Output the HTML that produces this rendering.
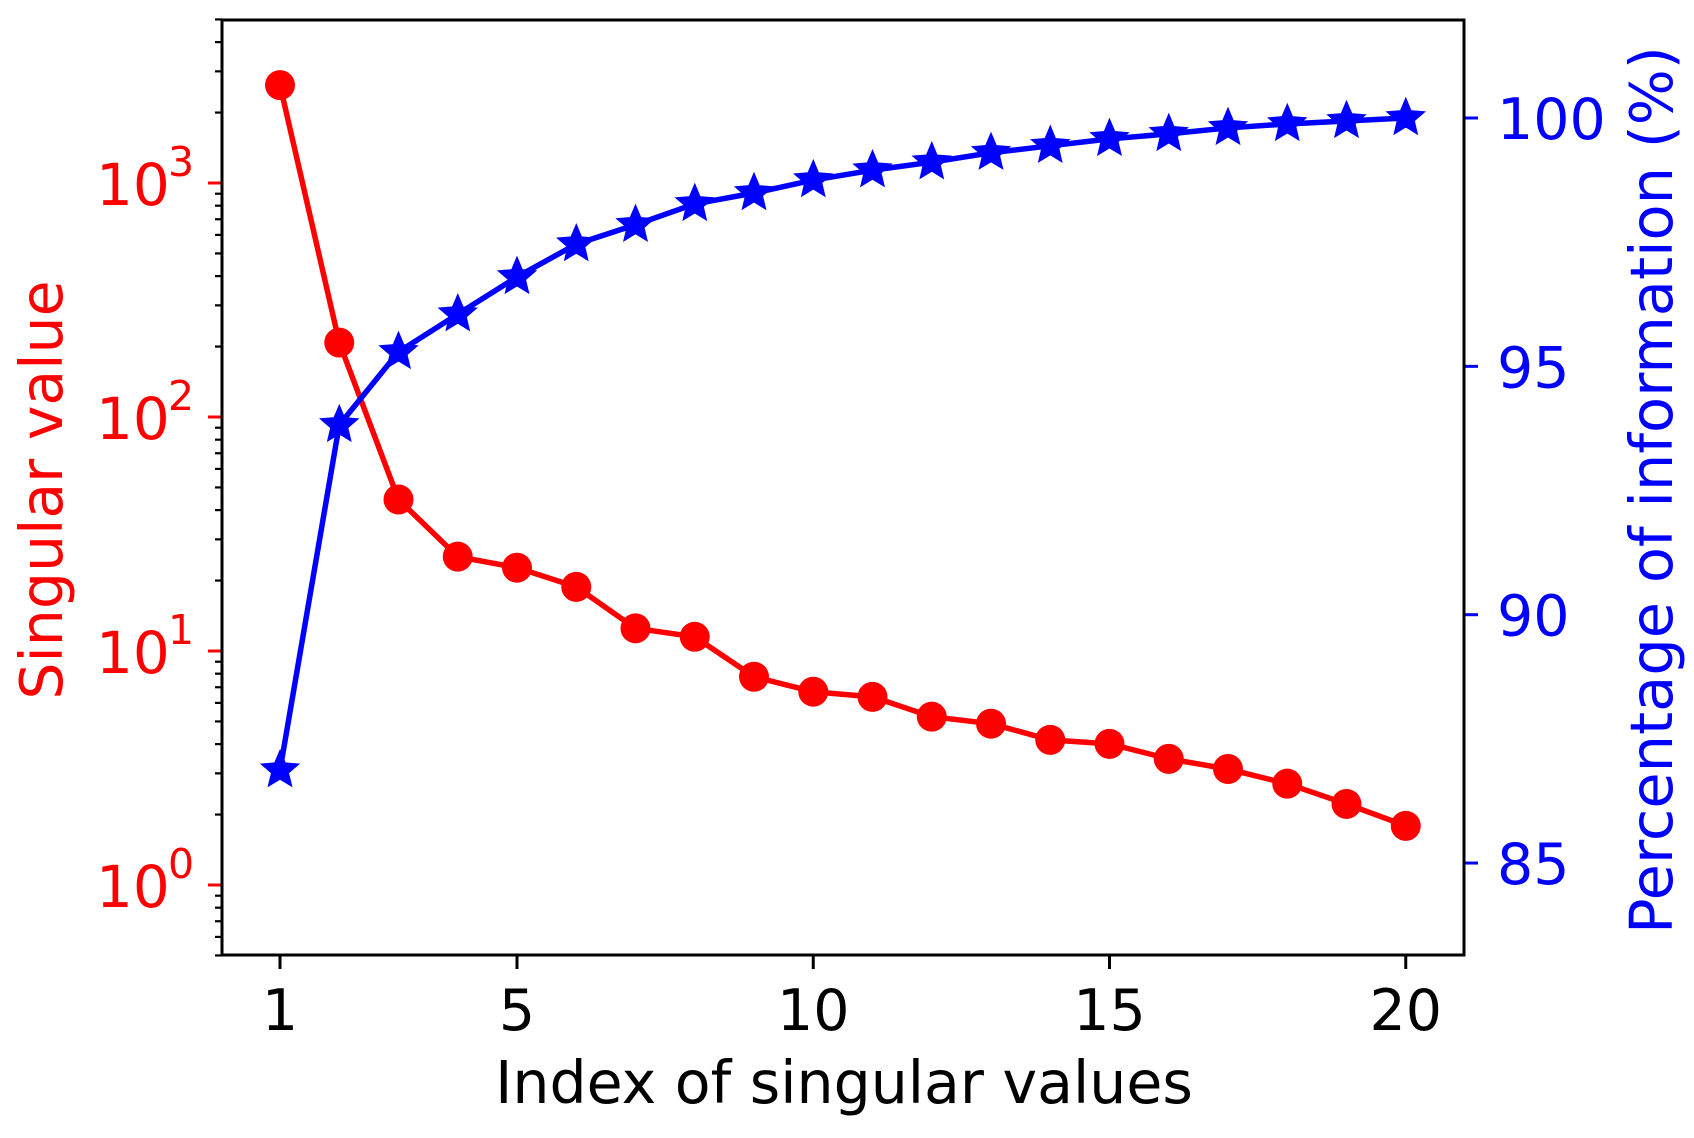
<!DOCTYPE html>
<html><head><meta charset="utf-8"><style>
html,body{margin:0;padding:0;background:#fff;}
svg text{font-family:"DejaVu Sans","Liberation Sans",sans-serif;}
</style></head><body>
<svg id="chart" width="1694" height="1133" viewBox="0 0 1694 1133" xmlns="http://www.w3.org/2000/svg">
<g id="plot"></g>
</svg>
<script>
const indices = [1,2,3,4,5,6,7,8,9,10,11,12,13,14,15,16,17,18,19,20];
const singularValues = [2620,208,44.4,25.3,22.7,18.8,12.5,11.5,7.76,6.7,6.37,5.24,4.89,4.17,4.01,3.46,3.13,2.71,2.22,1.79];
const percentInfo = [86.87,93.82,95.29,96.05,96.8,97.46,97.85,98.27,98.49,98.75,98.95,99.11,99.3,99.44,99.58,99.68,99.8,99.88,99.94,100.0];
const xTicks = [1,5,10,15,20];
const leftExps = [0,1,2,3];
const rightTicks = [85,90,95,100];

const NS = "http://www.w3.org/2000/svg";
const g = document.getElementById('plot');
const L = 222, R = 1464, T = 20, B = 955;
function xs(v){ return 280 + (v-1)*59.25; }
function yl(v){ return 885 - Math.log10(v)*234; }
function yr(v){ return 118 + (100-v)*49.67; }
function mk(tag, attrs, parent){
  const e = document.createElementNS(NS, tag);
  for (const k in attrs) e.setAttribute(k, attrs[k]);
  (parent||g).appendChild(e);
  return e;
}

xTicks.forEach(v=>{
  const t = mk('line',{x1:xs(v),x2:xs(v),y1:B,y2:B+14,stroke:'#000','stroke-width':3});
  
  
  const lb = mk('text',{x:xs(v),y:1030,'text-anchor':'middle','font-size':57,fill:'#000'});
  lb.textContent = v;
  
  
});
for (let e=-1;e<=3;e++){
  for (let m=1;m<10;m++){
    const v = m*Math.pow(10,e);
    const y = yl(v);
    if (y < T-1 || y > B+1) continue;
    const len = m===1?14:7;
    const t = mk('line',{x1:L-len,x2:L,y1:y,y2:y,stroke:m===1?'#f00':'#000','stroke-width':m===1?3:2.2});
    
    
  }
}
leftExps.forEach(e=>{
  const y = yl(Math.pow(10,e));
  const lb = mk('text',{x:96,y:y+22,'font-size':58,fill:'#f00'});
  lb.textContent = '10';
  
  
  const sp = mk('text',{x:168,y:y-7,'font-size':41,fill:'#f00'});
  sp.textContent = e;
  
  
});
rightTicks.forEach(v=>{
  const y = yr(v);
  const t = mk('line',{x1:R,x2:R+14,y1:y,y2:y,stroke:'#00f','stroke-width':3});
  
  
  const lb = mk('text',{x:1497,y:y+21,'font-size':57,fill:'#00f'});
  lb.textContent = v;
  
  
});

const rl = mk('polyline',{points:indices.map((x,i)=>xs(x)+','+yl(singularValues[i])).join(' '),fill:'none',stroke:'#f00','stroke-width':5.5,'stroke-linejoin':'round'});


indices.forEach((x,i)=>{
  const c = mk('circle',{cx:xs(x),cy:yl(singularValues[i]),r:15,fill:'#f00'});
  
  
});
const bl = mk('polyline',{points:indices.map((x,i)=>xs(x)+','+yr(percentInfo[i])).join(' '),fill:'none',stroke:'#00f','stroke-width':5.5,'stroke-linejoin':'round'});


function star(cx,cy,r){
  const pts=[];
  for(let k=0;k<10;k++){
    const a = -Math.PI/2 + k*Math.PI/5;
    const rr = k%2===0 ? r : r*0.45;
    pts.push((cx+rr*Math.cos(a)).toFixed(1)+','+(cy+rr*Math.sin(a)).toFixed(1));
  }
  return pts.join(' ');
}
indices.forEach((x,i)=>{
  const s = mk('polygon',{points:star(xs(x),yr(percentInfo[i]),18),fill:'#00f',stroke:'#00f','stroke-width':2.5,'stroke-linejoin':'miter'});
  
  
});

const fr = mk('rect',{x:L,y:T,width:R-L,height:B-T,fill:'none',stroke:'#000','stroke-width':3});



const xt = mk('text',{x:844,y:1103,'text-anchor':'middle','font-size':58.5,fill:'#000'});
xt.textContent = 'Index of singular values';


const ylt = mk('text',{x:0,y:0,'text-anchor':'middle','font-size':58.5,fill:'#f00',transform:'translate(62,490) rotate(-90)'});
ylt.textContent = 'Singular value';


const yrt = mk('text',{x:0,y:0,'text-anchor':'middle','font-size':59,fill:'#00f',transform:'translate(1672,490) rotate(-90)'});
yrt.textContent = 'Percentage of information (%)';


</script>
</body></html>
